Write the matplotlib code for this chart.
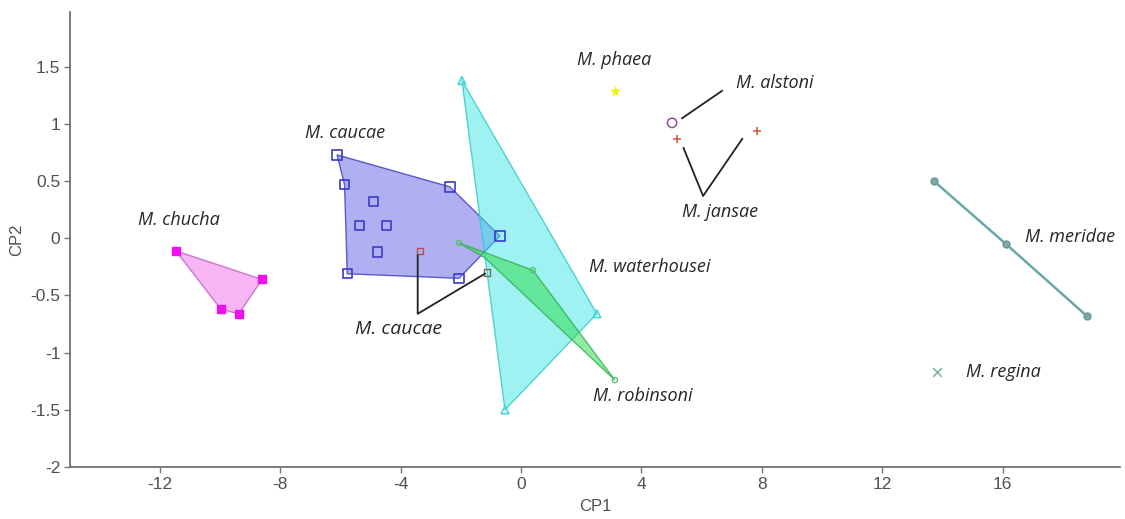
import matplotlib
matplotlib.use("Agg")
import matplotlib.pyplot as plt
from matplotlib.patches import Polygon
import numpy as np

# Group scores on the first two canonical axes
chucha_x = [-11.46, -8.60, -9.37, -9.97]
chucha_y = [-0.11, -0.36, -0.66, -0.62]

caucae_x = [-6.11, -5.86, -2.36, -4.90, -5.36, -4.47, -4.77, -5.77, -0.70, -2.06]
caucae_y = [0.73, 0.47, 0.45, 0.32, 0.11, 0.11, -0.12, -0.31, 0.02, -0.35]
caucae_hull = [0, 2, 8, 9, 7, 1]

caucae2_x = [-3.36, -1.13]
caucae2_y = [-0.11, -0.30]

waterhousei_x = [-1.96, 2.52, -0.53]
waterhousei_y = [1.38, -0.66, -1.50]

robinsoni_x = [-2.06, 0.40, 3.12, -1.20]
robinsoni_y = [-0.04, -0.28, -1.24, -0.17]

phaea_x, phaea_y = [3.12], [1.29]
alstoni_x, alstoni_y = [5.02], [1.01]
jansae_x = [5.18, 7.84]
jansae_y = [0.87, 0.94]

meridae_x = [13.72, 16.11, 18.80]
meridae_y = [0.50, -0.05, -0.68]

regina_x, regina_y = [13.82], [-1.17]

xticks = [-12, -8, -4, 0, 4, 8, 12, 16]
yticks = [-2, -1.5, -1, -0.5, 0, 0.5, 1, 1.5]
ytick_labels = ["-2", "-1.5", "-1", "-0.5", "0", "0.5", "1", "1.5"]

fig = plt.figure(figsize=(11.25, 5.19), dpi=100)
ax = fig.add_axes([0.0622, 0.1002, 0.9334, 0.8768])
ax.set_xlim(-14.98, 19.9)
ax.set_ylim(-2.0, 1.98)

grey = "#505050"
for side in ("top", "right"):
    ax.spines[side].set_visible(False)
for side in ("left", "bottom"):
    ax.spines[side].set_color("#666666")
    ax.spines[side].set_linewidth(1.2)

tick_font = {"family": ["Liberation Sans", "DejaVu Sans"], "size": 12.5}
ax.set_xticks(xticks)
ax.set_xticklabels([str(t) for t in xticks], fontdict=tick_font, color=grey)
ax.set_yticks(yticks)
ax.set_yticklabels(ytick_labels, fontdict=tick_font, color=grey)
ax.tick_params(axis="both", colors="#777777", length=4, width=1, pad=3)
for lab in ax.get_xticklabels() + ax.get_yticklabels():
    lab.set_color(grey)
ax.set_xlabel("CP1", fontdict={**tick_font, "size": 12}, color=grey, labelpad=5)
ax.set_ylabel("CP2", fontdict={**tick_font, "size": 12}, color=grey, labelpad=4)


def hull(xs, ys, order, face, edge, alpha, z):
    pts = np.column_stack([np.array(xs)[order], np.array(ys)[order]])
    ax.add_patch(Polygon(pts, closed=True, facecolor=face, edgecolor="none", alpha=alpha, zorder=z))
    ax.add_patch(Polygon(pts, closed=True, facecolor="none", edgecolor=edge, alpha=0.8, lw=1.0, zorder=z + 0.1))


# M. chucha
hull(chucha_x, chucha_y, [0, 1, 2, 3], "#f07af0", "#c060c0", 0.55, 2)
ax.scatter(chucha_x, chucha_y, marker="s", s=30, color="#ee10ee", zorder=5)

# M. caucae
hull(caucae_x, caucae_y, caucae_hull, "#6e6ee8", "#3c3cc0", 0.55, 2)
ax.scatter(caucae_x, caucae_y, marker="s", s=45, facecolor="none", edgecolor="#3a3ac8", lw=1.2, zorder=5)

# M. waterhousei
hull(waterhousei_x, waterhousei_y, [0, 1, 2], "#3fe6e6", "#30c8c8", 0.5, 3)
ax.scatter(waterhousei_x, waterhousei_y, marker="^", s=30, facecolor="none", edgecolor="#40d8d8", lw=1.2, zorder=5)

# M. robinsoni
hull(robinsoni_x, robinsoni_y, [0, 1, 2, 3], "#33dd55", "#30b050", 0.55, 4)
ax.scatter(robinsoni_x[:3], robinsoni_y[:3], marker="o", s=14, facecolor="none", edgecolor="#5cc070", lw=1.0, zorder=5)

# Second M. caucae sample
ax.scatter(caucae2_x[:1], caucae2_y[:1], marker="s", s=22, facecolor="none", edgecolor="#b05050", lw=1.0, zorder=6)
ax.scatter(caucae2_x[1:], caucae2_y[1:], marker="s", s=22, facecolor="none", edgecolor="#7a7040", lw=1.0, zorder=6)

# Single-group taxa
ax.scatter(phaea_x, phaea_y, marker="*", s=35, color="#f0f020", zorder=6)
ax.scatter(alstoni_x, alstoni_y, marker="o", s=45, facecolor="none", edgecolor="#9050a0", lw=1.1, zorder=6)
ax.scatter(jansae_x, jansae_y, marker="+", s=40, color="#d06050", lw=1.2, zorder=6)

# M. meridae
ax.plot(meridae_x, meridae_y, color="#6aa8a8", lw=1.8, marker="o", ms=5,
        mfc="#7aaaa8", mec="#6a9898", zorder=5)

# M. regina
ax.scatter(regina_x, regina_y, marker="x", s=40, color="#80b8a0", lw=1.2, zorder=6)

# Annotations
lab_font = {"family": ["Open Sans", "DejaVu Sans"], "style": "italic", "size": 13}
lab_col = "#262626"
ax.text(-11.36, 0.16, "M. chucha", ha="center", va="center", fontdict=lab_font, color=lab_col)
ax.text(-5.85, 0.92, "M. caucae", ha="center", va="center", fontdict=lab_font, color=lab_col)
ax.text(-4.05, -0.79, "M. caucae", ha="center", va="center", fontdict={**lab_font, "size": 14}, color=lab_col)
ax.text(3.09, 1.56, "M. phaea", ha="center", va="center", fontdict=lab_font, color=lab_col)
ax.text(8.44, 1.36, "M. alstoni", ha="center", va="center", fontdict=lab_font, color=lab_col)
ax.text(6.61, 0.23, "M. jansae", ha="center", va="center", fontdict=lab_font, color=lab_col)
ax.text(4.29, -0.25, "M. waterhousei", ha="center", va="center", fontdict=lab_font, color=lab_col)
ax.text(4.05, -1.38, "M. robinsoni", ha="center", va="center", fontdict=lab_font, color=lab_col)
ax.text(18.24, 0.01, "M. meridae", ha="center", va="center", fontdict=lab_font, color=lab_col)
ax.text(16.01, -1.17, "M. regina", ha="center", va="center", fontdict=lab_font, color=lab_col)

# Leader lines
line_kw = dict(color="#222222", lw=1.3, zorder=7)
ax.plot([-3.43, -3.43, -1.2], [-0.15, -0.66, -0.31], **line_kw)
ax.plot([5.35, 6.68], [1.05, 1.29], **line_kw)
ax.plot([5.4, 6.05, 7.35], [0.79, 0.37, 0.87], **line_kw)

fig.savefig("out.png", dpi=100)
